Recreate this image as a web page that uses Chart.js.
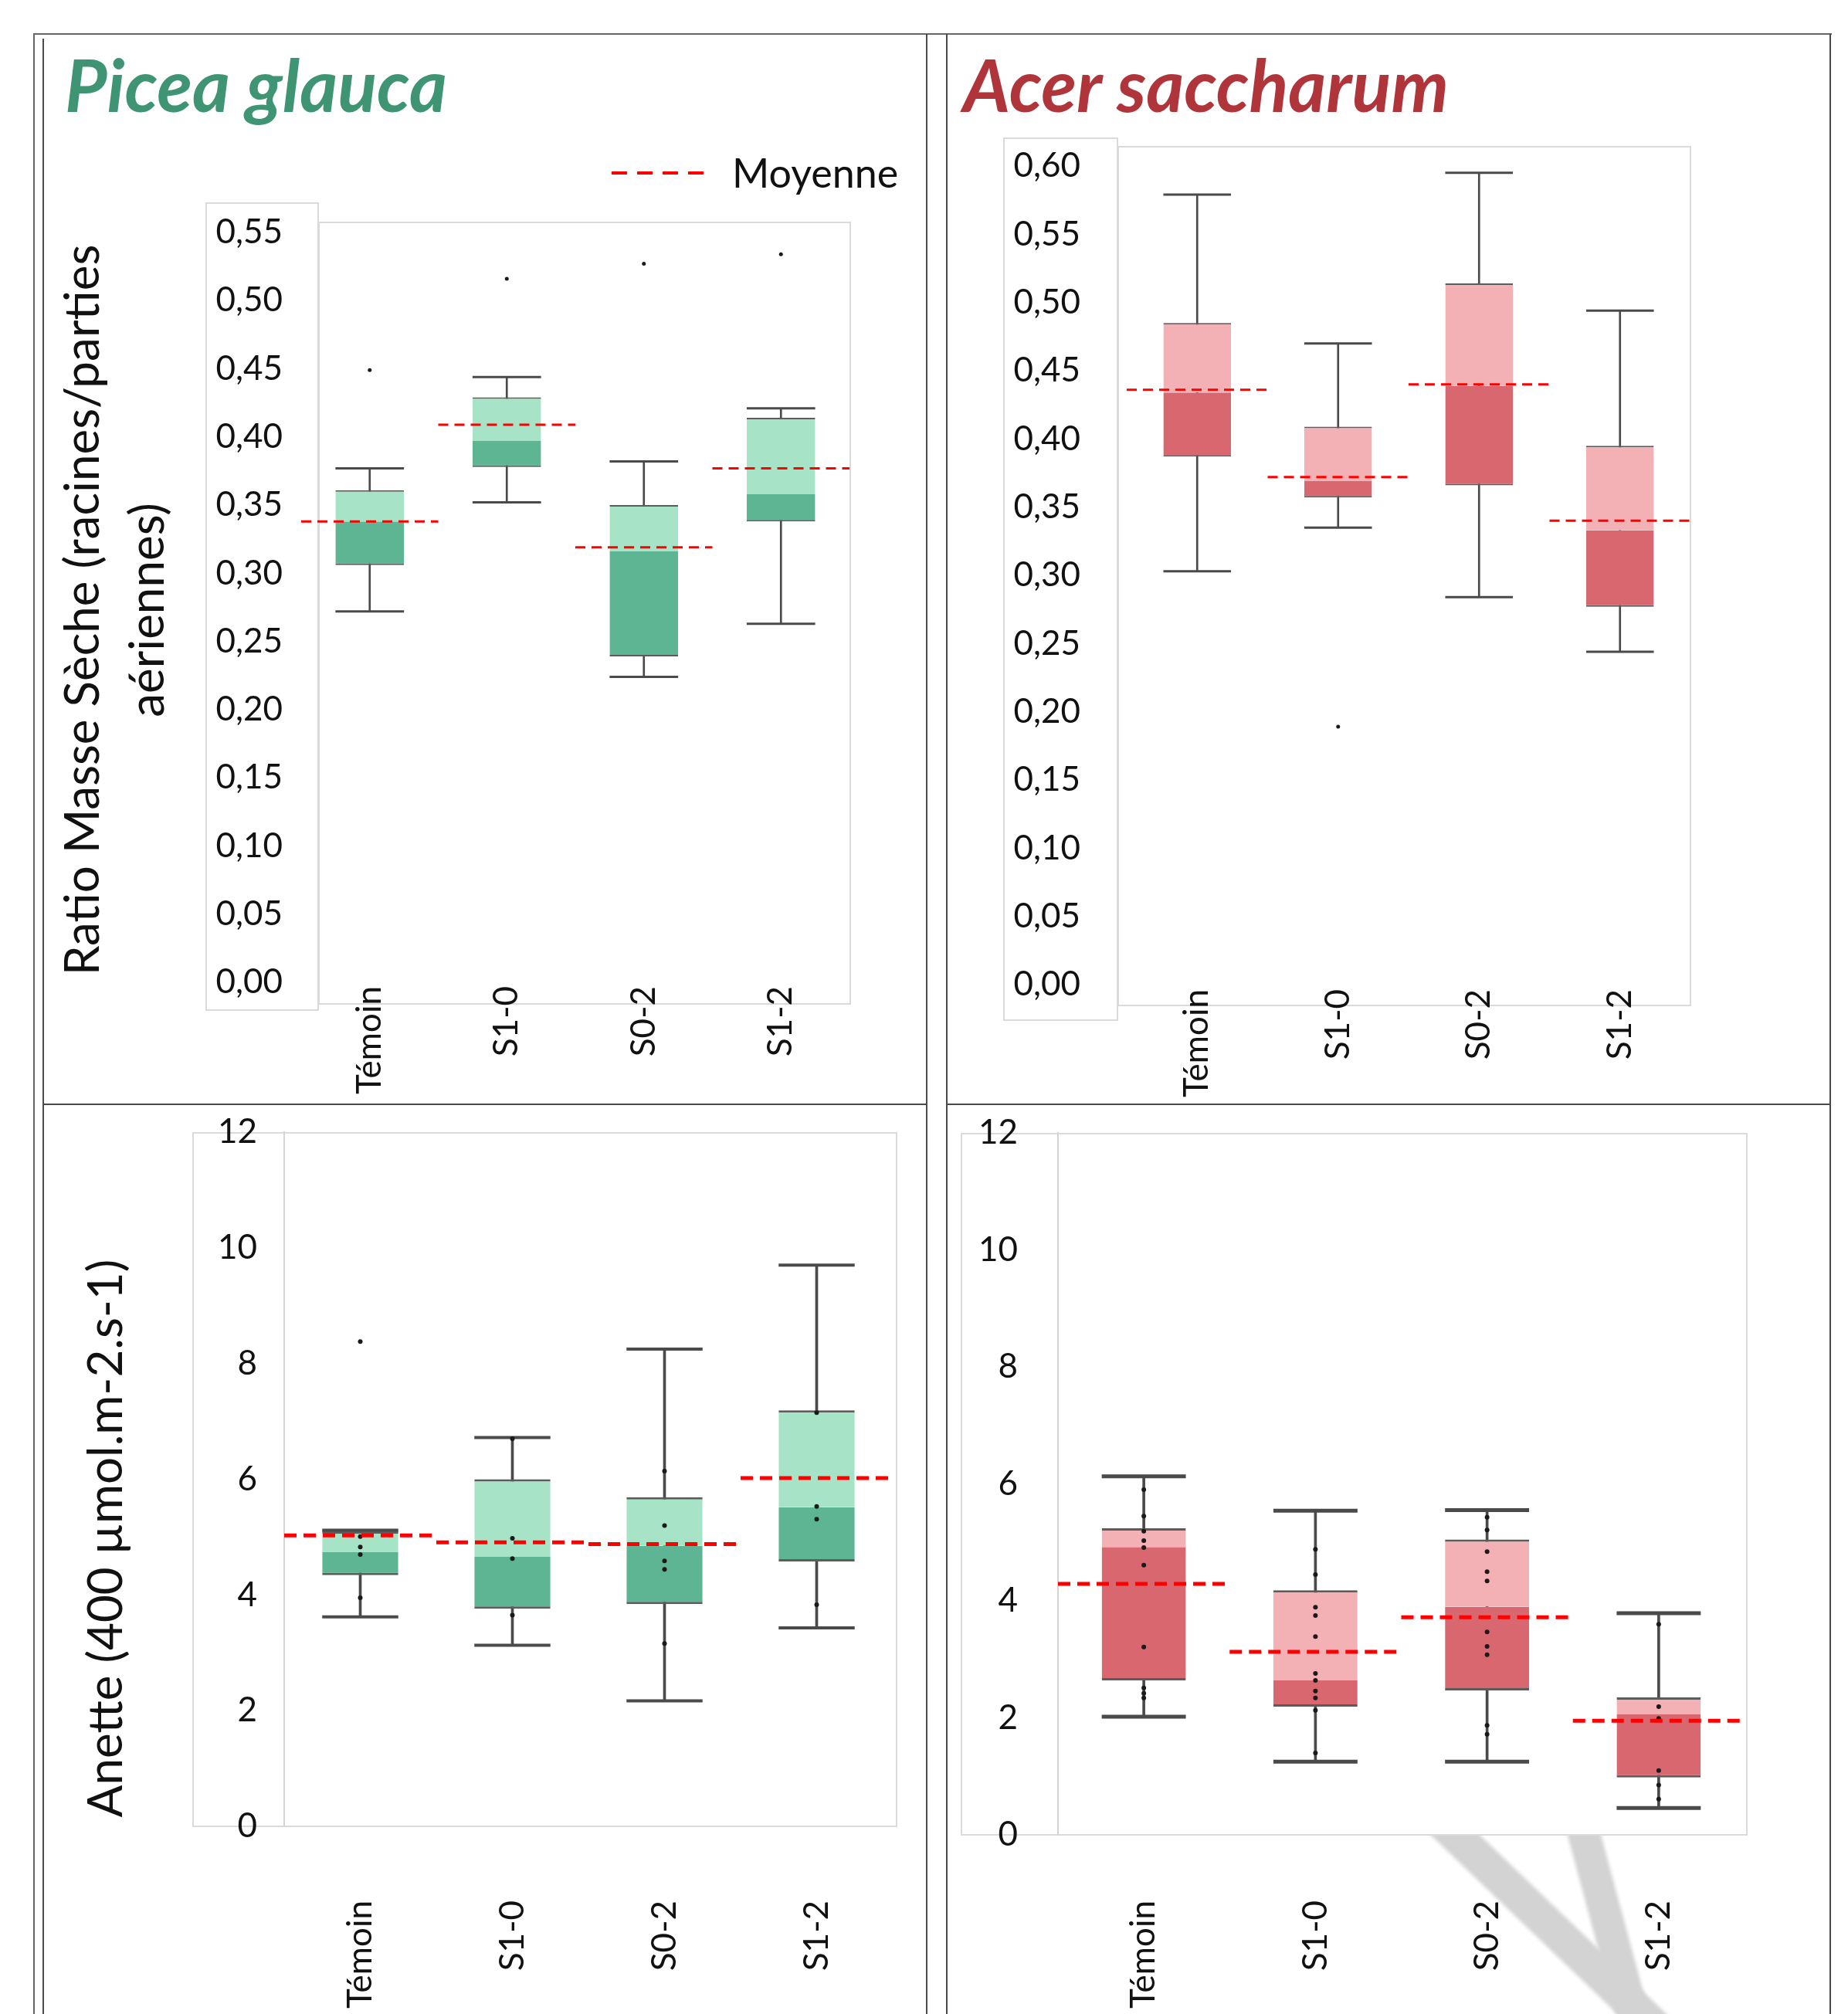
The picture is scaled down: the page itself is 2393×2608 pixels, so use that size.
<!DOCTYPE html>
<html>
<head>
<meta charset="utf-8">
<script src="https://cdn.jsdelivr.net/npm/chart.js@4.4.0/dist/chart.umd.min.js"></script>
<style>
  html, body { margin: 0; padding: 0; background: #ffffff; }
  body { width: 2393px; height: 2608px; position: relative; overflow: hidden; font-family: Lato, "Open Sans", sans-serif; }
  canvas { position: absolute; }
  .ln { position: absolute; background: #4a4a4a; }
  .frame { position: absolute; border: 2px solid #dadada; box-sizing: border-box; }
  .title { position: absolute; font-family: Lato, sans-serif; font-weight: 700; font-style: italic; font-size: 94px; line-height: 1.2; white-space: nowrap; }
  .rot { position: absolute; transform: translate(-50%, -50%) rotate(-90deg); white-space: nowrap; text-align: center; font-family: Lato, sans-serif; font-size: 62px; line-height: 84px; color: #111; }
  .band { position: absolute; background: #d3d3d3; transform-origin: 0 50%; filter: blur(2px); }
</style>
</head>
<body>

<!-- faint watermark strokes (bottom-right) -->
<div class="band" style="left:1830px;top:2302px;width:440px;height:44px;transform:rotate(43.8deg);"></div>
<div class="band" style="left:2036px;top:2298px;width:300px;height:42px;transform:rotate(74.9deg);"></div>

<!-- table / cell borders -->
<div class="ln" style="left:44px;top:43px;width:2328px;height:2px;background:#666;"></div>
<div class="ln" style="left:43px;top:43px;width:2px;height:2565px;background:#666;"></div>
<div class="ln" style="left:55px;top:50px;width:2px;height:2558px;"></div>
<div class="ln" style="left:1199px;top:44px;width:2px;height:2564px;"></div>
<div class="ln" style="left:1225px;top:44px;width:2px;height:2564px;"></div>
<div class="ln" style="left:2369px;top:44px;width:2px;height:2564px;"></div>
<div class="ln" style="left:56px;top:1429px;width:1144px;height:2px;"></div>
<div class="ln" style="left:1226px;top:1429px;width:1144px;height:2px;"></div>

<!-- plot frames -->
<div class="frame" style="left:266px;top:262px;width:147px;height:1047px;"></div>
<div class="frame" style="left:412px;top:287px;width:690px;height:1014px;"></div>
<div class="frame" style="left:1299px;top:178px;width:149px;height:1144px;"></div>
<div class="frame" style="left:1447px;top:189px;width:743px;height:1114px;"></div>
<div class="frame" style="left:249px;top:1466px;width:913px;height:900px;"></div>
<div class="frame" style="left:1244px;top:1467px;width:1019px;height:910px;background:#ffffff;"></div>

<!-- titles -->
<div class="title" style="left:84px;top:53px;color:#3f9474;">Picea glauca</div>
<div class="title" style="left:1247px;top:53px;color:#b0353b;">Acer saccharum</div>

<!-- legend -->
<div style="position:absolute;left:792px;top:222px;width:119px;height:4px;background:repeating-linear-gradient(to right,#ff0000 0 20px,transparent 20px 33px);"></div>
<div style="position:absolute;left:948px;top:192px;font-family:Lato,sans-serif;font-size:52px;line-height:1.2;color:#111;white-space:nowrap;">Moyenne</div>

<!-- axis titles -->
<div class="rot" style="left:146px;top:790px;">Ratio Masse Sèche (racines/parties<br>aériennes)</div>
<div class="rot" style="left:134px;top:1992px;">Anette (400 µmol.m-2.s-1)</div>

<canvas id="cA" width="870" height="1169" style="left:240px;top:261px;"></canvas>
<canvas id="cB" width="899" height="1255" style="left:1300px;top:175px;"></canvas>
<canvas id="cC" width="926" height="1182" style="left:240px;top:1426px;"></canvas>
<canvas id="cD" width="1029" height="1181" style="left:1240px;top:1427px;"></canvas>

<script>
// ---------------- DATA ----------------
const categories = ['Témoin', 'S1-0', 'S0-2', 'S1-2'];

// Picea glauca – Ratio masse sèche
const picRatioMin    = [0.272, 0.352, 0.224, 0.263];
const picRatioQ1     = [0.306, 0.378, 0.239, 0.338];
const picRatioMedian = [0.338, 0.397, 0.316, 0.358];
const picRatioQ3     = [0.361, 0.429, 0.350, 0.414];
const picRatioMax    = [0.377, 0.444, 0.382, 0.421];
const picRatioMean   = [0.338, 0.409, 0.319, 0.377];
const picRatioOutliers = [[0.449], [0.516], [0.527], [0.534]];

// Acer saccharum – Ratio masse sèche
const acerRatioMin    = [0.303, 0.335, 0.284, 0.244];
const acerRatioQ1     = [0.387, 0.357, 0.366, 0.277];
const acerRatioMedian = [0.434, 0.369, 0.439, 0.333];
const acerRatioQ3     = [0.485, 0.409, 0.514, 0.395];
const acerRatioMax    = [0.579, 0.470, 0.595, 0.494];
const acerRatioMean   = [0.436, 0.372, 0.440, 0.340];
const acerRatioOutliers = [[], [0.189], [], []];

// Picea glauca – Anette
const picAnMin    = [3.62, 3.13, 2.17, 3.43];
const picAnQ1     = [4.34, 3.76, 3.84, 4.58];
const picAnMedian = [4.74, 4.66, 4.85, 5.52];
const picAnQ3     = [5.10, 6.00, 5.69, 7.19];
const picAnMax    = [5.12, 6.72, 8.25, 9.70];
const picAnMean   = [5.03, 4.91, 4.88, 6.02];
const picAnOutliers = [[8.38], [], [], []];
const picAnPoints = [
  [5.01, 4.83, 4.70, 3.95],
  [6.70, 4.98, 4.63, 3.65],
  [6.14, 5.20, 4.59, 4.44, 3.16],
  [7.15, 5.53, 5.31, 3.83]
];

// Acer saccharum – Anette
const acerAnMin    = [2.02, 1.25, 1.25, 0.46];
const acerAnQ1     = [2.64, 2.19, 2.47, 0.98];
const acerAnMedian = [4.92, 2.64, 3.90, 2.06];
const acerAnQ3     = [5.24, 4.18, 5.05, 2.35];
const acerAnMax    = [6.13, 5.54, 5.55, 3.79];
const acerAnMean   = [4.29, 3.13, 3.72, 1.95];
const acerAnOutliers = [[], [], [], []];
const acerAnPoints = [
  [5.90, 5.45, 5.19, 5.03, 4.91, 4.61, 3.21, 2.51, 2.42, 2.34],
  [4.88, 4.45, 3.89, 3.75, 3.39, 2.76, 2.64, 2.46, 2.34, 2.13, 1.40],
  [5.43, 5.21, 4.84, 4.50, 4.34, 3.47, 3.22, 3.08, 1.87, 1.72],
  [3.60, 2.19, 1.99, 1.10, 0.85, 0.61]
];

// Tick values and labels
const ratioTicksPic   = [0, 0.05, 0.10, 0.15, 0.20, 0.25, 0.30, 0.35, 0.40, 0.45, 0.50, 0.55];
const ratioLabelsPic  = ['0,00','0,05','0,10','0,15','0,20','0,25','0,30','0,35','0,40','0,45','0,50','0,55'];
const ratioTicksAcer  = [0, 0.05, 0.10, 0.15, 0.20, 0.25, 0.30, 0.35, 0.40, 0.45, 0.50, 0.55, 0.60];
const ratioLabelsAcer = ['0,00','0,05','0,10','0,15','0,20','0,25','0,30','0,35','0,40','0,45','0,50','0,55','0,60'];
const anetteTicks  = [0, 2, 4, 6, 8, 10, 12];
const anetteLabels = ['0', '2', '4', '6', '8', '10', '12'];

// ---------------- CHART BUILDER ----------------
Chart.defaults.font.family = 'Lato, "Open Sans", sans-serif';

function makeBoxChart(id, d, s) {
  const n = categories.length;
  const datasets = [];

  const meanPts = [];
  d.mean.forEach((m, i) => {
    meanPts.push({x: i - 0.5, y: m}, {x: i + 0.5, y: m}, {x: i + 0.5, y: null});
  });
  datasets.push({
    type: 'line', label: 'Moyenne', data: meanPts, xAxisID: 'xm',
    borderColor: '#ff0000', borderWidth: s.meanWidth, borderDash: s.meanDash,
    pointRadius: 0, spanGaps: false, fill: false, order: 0
  });

  const obs = [];
  (d.points || []).forEach((arr, i) => arr.forEach(v => obs.push({x: i, y: v})));
  (d.outliers || []).forEach((arr, i) => arr.forEach(v => obs.push({x: i, y: v})));
  datasets.push({
    type: 'line', data: obs, xAxisID: 'xm', showLine: false,
    pointRadius: s.dotRadius, pointBackgroundColor: '#1a1a1a', pointBorderWidth: 0, order: 1
  });

  const capRadius = ctx => ctx.chart.scales.x.width / n * s.boxRatio / 2;
  [d.max, d.min].forEach(arr => datasets.push({
    type: 'line', data: arr, showLine: false, pointStyle: 'line',
    pointRadius: capRadius, pointBorderWidth: s.capWidth, pointBorderColor: '#4a4a4a', order: 2
  }));

  datasets.push({
    type: 'bar', data: d.q1.map((v, i) => [v, d.median[i]]),
    backgroundColor: s.dark, borderColor: '#5c5c5c',
    borderWidth: {top: 0, right: 0, left: 0, bottom: s.boxLine}, borderSkipped: false,
    grouped: false, barPercentage: s.boxRatio, categoryPercentage: 1, order: 3
  });
  datasets.push({
    type: 'bar', data: d.median.map((v, i) => [v, d.q3[i]]),
    backgroundColor: s.light, borderColor: '#5c5c5c',
    borderWidth: {top: s.boxLine, right: 0, left: 0, bottom: 0}, borderSkipped: false,
    grouped: false, barPercentage: s.boxRatio, categoryPercentage: 1, order: 3
  });
  datasets.push({
    type: 'bar', data: d.min.map((v, i) => [v, d.max[i]]),
    backgroundColor: '#4a4a4a', borderWidth: 0,
    grouped: false, barPercentage: 1, categoryPercentage: 1, maxBarThickness: s.whiskerWidth, order: 4
  });

  return new Chart(document.getElementById(id), {
    type: 'bar',
    data: { labels: categories, datasets },
    options: {
      responsive: false, animation: false, devicePixelRatio: 1,
      layout: { padding: { top: s.padTop, right: s.padRight, left: 0, bottom: 0 } },
      plugins: { legend: { display: false }, tooltip: { enabled: false } },
      scales: {
        x: {
          type: 'category', offset: true,
          afterFit: sc => { sc.height = s.xAxisHeight; },
          grid: { display: true, drawOnChartArea: false, drawTicks: true, tickLength: s.xGap, color: 'rgba(0,0,0,0)' },
          border: { display: false },
          ticks: { minRotation: 90, maxRotation: 90, autoSkip: false, padding: 0,
                   color: '#111', font: { size: 44 } }
        },
        xm: { type: 'linear', min: -0.5, max: n - 0.5, offset: false, display: false },
        y: {
          min: d.yMin, max: d.yMax,
          afterFit: sc => { sc.width = s.yAxisWidth; },
          afterBuildTicks: sc => { sc.ticks = d.yTicks.map(v => ({value: v})); },
          grid: { display: true, drawOnChartArea: false, drawTicks: true, tickLength: s.yGap, color: 'rgba(0,0,0,0)' },
          border: { display: s.axisLine, color: '#d4d4d4', width: 2 },
          ticks: { padding: 0, color: '#111', font: { size: 44 },
                   callback: (v, i) => d.yLabels[i] }
        }
      }
    }
  });
}

const greenStyle = { light: '#a7e3c6', dark: '#5db593' };
const redStyle   = { light: '#f3b1b6', dark: '#d8676f' };

makeBoxChart('cA',
  { min: picRatioMin, q1: picRatioQ1, median: picRatioMedian, q3: picRatioQ3, max: picRatioMax,
    mean: picRatioMean, outliers: picRatioOutliers, yMin: 0, yMax: 0.55,
    yTicks: ratioTicksPic, yLabels: ratioLabelsPic },
  Object.assign({ boxRatio: 0.50, yAxisWidth: 150, xAxisHeight: 158, padTop: 40, padRight: 10,
    yGap: 24, xGap: 5, meanWidth: 3, meanDash: [13, 8], capWidth: 3, boxLine: 2, whiskerWidth: 2,
    dotRadius: 2.5, axisLine: false }, greenStyle));

makeBoxChart('cB',
  { min: acerRatioMin, q1: acerRatioQ1, median: acerRatioMedian, q3: acerRatioQ3, max: acerRatioMax,
    mean: acerRatioMean, outliers: acerRatioOutliers, yMin: 0, yMax: 0.60,
    yTicks: ratioTicksAcer, yLabels: ratioLabelsAcer },
  Object.assign({ boxRatio: 0.48, yAxisWidth: 159, xAxisHeight: 155, padTop: 40, padRight: 10,
    yGap: 60, xGap: 6, meanWidth: 3, meanDash: [13, 8], capWidth: 3, boxLine: 2, whiskerWidth: 2,
    dotRadius: 2.5, axisLine: false }, redStyle));

makeBoxChart('cC',
  { min: picAnMin, q1: picAnQ1, median: picAnMedian, q3: picAnQ3, max: picAnMax,
    mean: picAnMean, outliers: picAnOutliers, points: picAnPoints, yMin: 0, yMax: 12,
    yTicks: anetteTicks, yLabels: anetteLabels },
  Object.assign({ boxRatio: 0.50, yAxisWidth: 128, xAxisHeight: 243, padTop: 40, padRight: 10,
    yGap: 35, xGap: 96, meanWidth: 5, meanDash: [16, 9], capWidth: 4, boxLine: 3, whiskerWidth: 3,
    dotRadius: 3, axisLine: true }, greenStyle));

makeBoxChart('cD',
  { min: acerAnMin, q1: acerAnQ1, median: acerAnMedian, q3: acerAnQ3, max: acerAnMax,
    mean: acerAnMean, outliers: acerAnOutliers, points: acerAnPoints, yMin: 0, yMax: 12,
    yTicks: anetteTicks, yLabels: anetteLabels },
  Object.assign({ boxRatio: 0.49, yAxisWidth: 130, xAxisHeight: 232, padTop: 40, padRight: 10,
    yGap: 52, xGap: 85, meanWidth: 5, meanDash: [16, 9], capWidth: 5, boxLine: 3, whiskerWidth: 3,
    dotRadius: 3, axisLine: true }, redStyle));
</script>
</body>
</html>
